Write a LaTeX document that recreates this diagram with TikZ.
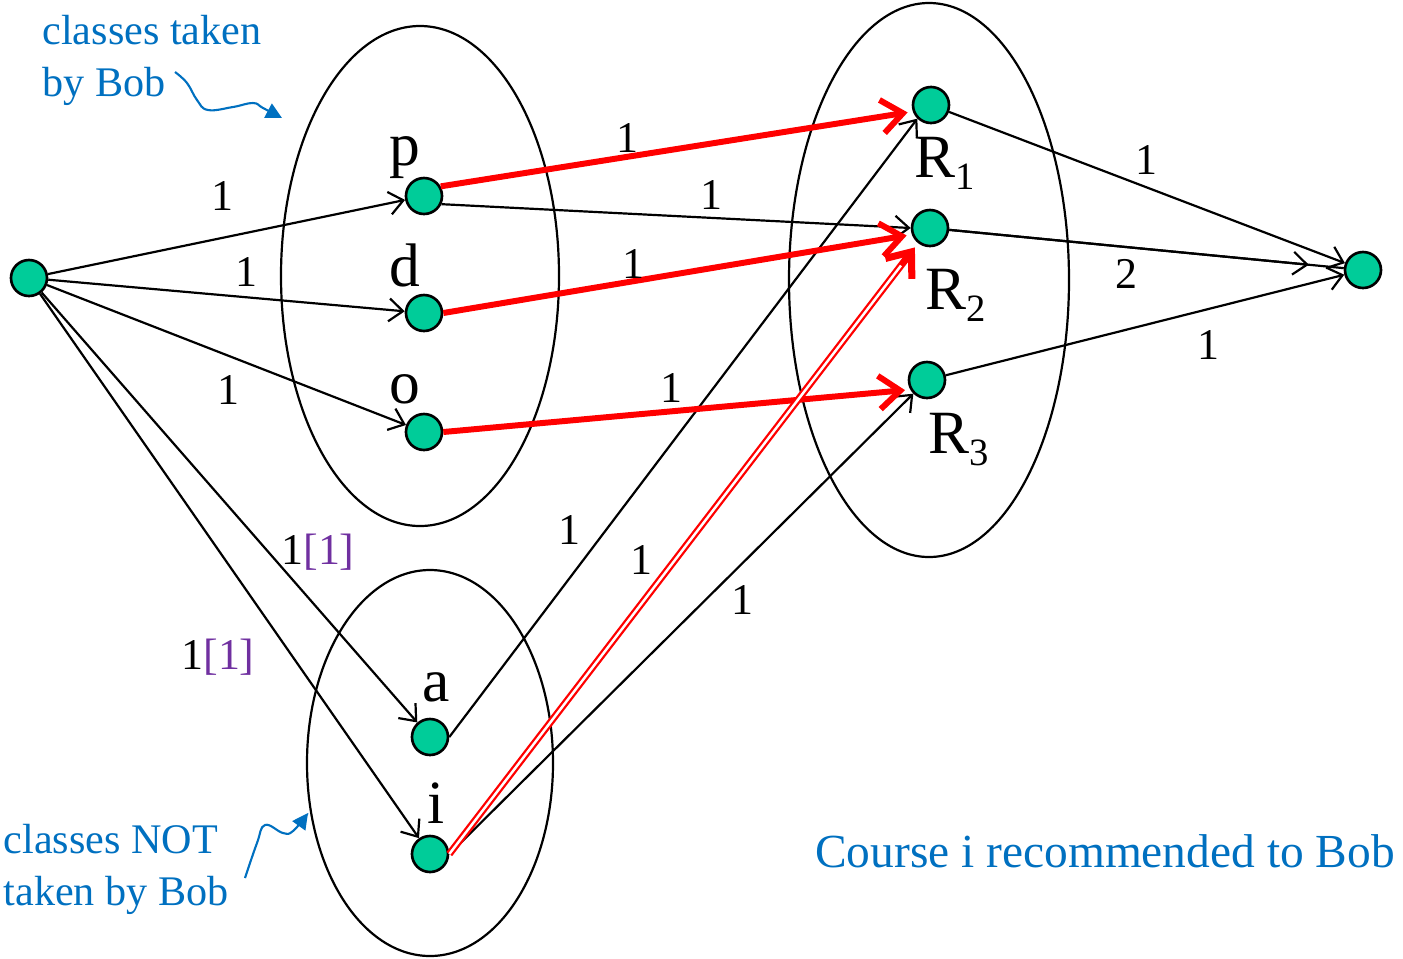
\documentclass[tikz,border=0pt]{standalone}
\usepackage{fontspec}
\setmainfont{Liberation Serif}
\usetikzlibrary{arrows.meta}
\definecolor{vgreen}{HTML}{00CC99}
\definecolor{noteblue}{HTML}{0070C0}
\definecolor{capviolet}{HTML}{7030A0}
\newcommand{\Rsub}[1]{R\raisebox{-6.8pt}{\fontsize{22}{22}\selectfont #1}}

\begin{document}
\begin{tikzpicture}[x=.02cm,y=-.02cm,
 vert/.style={circle,draw,line width=1.5pt,fill=vgreen,minimum size=20.5pt,inner sep=0pt},
 lbl/.style={font=\fontsize{35}{40}\selectfont,inner sep=0pt},
 elab/.style={font=\fontsize{25}{30}\selectfont,inner sep=0pt},
 note/.style={text=noteblue,font=\fontsize{24}{29.5}\selectfont,align=left,inner sep=0pt},
 arc/.style={line width=1.25pt,-{Straight Barb[length=8pt,width=13pt]}},
 flow/.style={red,line width=3.4pt,shorten >=3pt,-{Straight Barb[length=12pt,width=19pt]}},
 wiggle/.style={noteblue,line width=1.2pt,-{Triangle[length=9pt,width=9pt]}},
 grp/.style={line width=1.25pt}]
 \useasboundingbox (0,0) rectangle (1403,958);
 % groups
 \draw[grp] (420,276) ellipse [x radius=139, y radius=250];
 \draw[grp] (430,763) ellipse [x radius=123, y radius=193];
 \draw[grp] (929,280) ellipse [x radius=140, y radius=277];
 % vertices
 \node[vert] (s) at (29,278) {};
 \node[vert] (p) at (424,196) {};
 \node[vert] (d) at (424,313) {};
 \node[vert] (o) at (424,432) {};
 \node[vert] (a) at (430,737) {};
 \node[vert] (i) at (430,854) {};
 \node[vert] (R1) at (931,105) {};
 \node[vert] (R2) at (930,228) {};
 \node[vert] (R3) at (927,380) {};
 \node[vert] (t) at (1363,270) {};
 \node[lbl] (lp) at (405,158) {p};
 \node[lbl] (ld) at (405,265) {d};
 \node[lbl] (lo) at (405,389) {o};
 \node[lbl] (la) at (436,687) {a};
 \node[lbl] (li) at (436,803) {i};
 \node[lbl] (lR1) at (945,163) {\Rsub{1}};
 \node[lbl] (lR2) at (956,295) {\Rsub{2}};
 \node[lbl] (lR3) at (959,440) {\Rsub{3}};
 % source edges
 \draw[arc] (s) -- (p);
 \draw[arc] (s) -- (d);
 \draw[arc] (s) -- (o);
 \draw[arc] (s) -- (a);
 \draw[arc] (s) -- (i);
 % middle edges
 \draw[arc] (p.-25) -- (R2.west);
 \draw[arc] (a.east) -- (R1.225);
 \draw[arc] (i.east) -- (R3.225);
 \draw[flow] (p.30) -- (R1.200);
 \draw[flow] (d.east) -- (R2.200);
 \draw[flow] (o.east) -- (R3.210);
 \draw[flow,line width=4pt] (i.east) -- (R2.232);
 \draw[white,line width=1.4pt,shorten >=16pt] (i.east) -- (R2.232);
 % sink edges
 \draw[arc] (R1) -- (t);
 \draw[line width=1.25pt] (R2) -- (t);
 \draw[arc,shorten >=20pt] (R2) -- (t);
 \draw[arc] (R3) -- (t);
 % edge labels
 \node[elab] (c1) at (222,196) {1};
 \node[elab] (c2) at (246,272) {1};
 \node[elab] (c3) at (228,390) {1};
 \node[elab] (c4) at (318,552) {1\textcolor{capviolet}{[1]}};
 \node[elab] (c5) at (218,657) {1\textcolor{capviolet}{[1]}};
 \node[elab] (c6) at (627,138) {1};
 \node[elab] (c7) at (711,195) {1};
 \node[elab] (c8) at (633,264) {1};
 \node[elab] (c9) at (671,388) {1};
 \node[elab] (c10) at (569,530) {1};
 \node[elab] (c11) at (641,560) {1};
 \node[elab] (c12) at (742,600) {1};
 \node[elab] (c13) at (1146,160) {1};
 \node[elab] (c14) at (1126,274) {2};
 \node[elab] (c15) at (1208,345) {1};
 % notes
 \node[note] (taken) at (152,60) {classes taken\\by Bob};
 \node[note] (nottaken) at (116,869) {classes NOT\\taken by Bob};
 \node[text=noteblue,font=\fontsize{27}{32}\selectfont,inner sep=0pt] (rec) at (1105,851) {Course i recommended to Bob};
 \draw[wiggle] plot[smooth,tension=.7] coordinates {(175,72) (187,83) (197,100) (208,110) (233,107) (253,103) (263,108) (282,118)};
 \draw[wiggle] plot[smooth,tension=.7] coordinates {(245,878) (257,843) (265,825) (283,833) (293,831) (308,813)};
\end{tikzpicture}
\end{document}
